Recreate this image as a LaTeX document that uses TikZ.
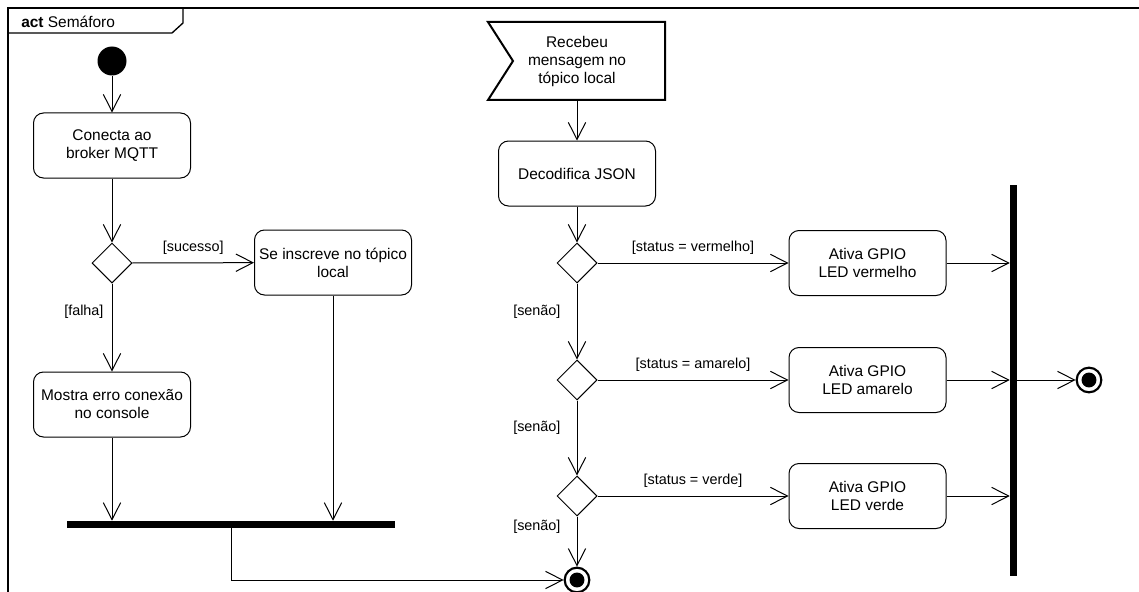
\documentclass[tikz,border=0pt]{standalone}
\usepackage{fontspec}
\setmainfont{Liberation Sans}
\usetikzlibrary{arrows.meta,shapes.geometric}
\newcommand{\boxfont}{\fontsize{11.6}{13.5}\selectfont}
\newcommand{\guardfont}{\fontsize{10.8}{13}\selectfont}
\begin{document}
\begin{tikzpicture}[x=0.75pt,y=-0.75pt,
  action/.style={draw, line width=0.75pt, rounded corners=7.5pt,
    minimum width=117.75pt, minimum height=48.75pt, align=center,
    font=\boxfont, inner sep=2pt},
  decision/.style={diamond, draw, line width=0.75pt, minimum width=30pt,
    minimum height=30pt, inner sep=0pt},
  flow/.style={line width=0.75pt, -{Straight Barb[length=12.75pt,width=13pt]}},
  guard/.style={font=\guardfont, inner sep=0pt},
  syncbar/.style={fill=black, draw=none, inner sep=0pt},
  startnode/.style={circle, fill=black, minimum size=21.75pt, inner sep=0pt},
  endnode/.style={circle, draw, fill=white, line width=1.6pt, minimum size=18.5pt,
    inner sep=0pt, path picture={\fill[black] (path picture bounding box.center) circle (5.6pt);}}
]
\useasboundingbox (0,0) rectangle (1139,592);

% frame and its name tab
\draw[line width=1pt] (8,600) -- (8,8) -- (1145,8);
\draw[line width=1pt] (8,33) -- (172,33) -- (183,23) -- (183,8);
\node[anchor=west, inner sep=0pt, font=\boxfont] (title) at (21,22) {\textbf{act} Semáforo};

% left branch: connection to the broker
\node[startnode] (start) at (112,61) {};
\node[action] (conn) at (112,145.5) {Conecta ao\\broker MQTT};
\node[decision] (d1) at (112,263) {};
\node[action] (sub) at (333,262.5) {Se inscreve no tópico\\local};
\node[action] (err) at (112,404.5) {Mostra erro conexão\\no console};
\node[syncbar, minimum width=246pt, minimum height=5.25pt] (lbar) at (231,524.5) {};

\draw[flow] (start) -- (conn);
\draw[flow] (conn) -- (d1);
\draw[flow] (d1) -- (sub) node[guard, pos=0.5, above=6pt] (gsuc) {[sucesso]};
\draw[flow] (d1) -- (err) node[guard, pos=0.32, left=6pt] (gfal) {[falha]};
\draw[flow] (err.south) -- (err.south |- lbar.north);
\draw[flow] (sub.south) -- (sub.south |- lbar.north);

% right branch: incoming message handling
\draw[line width=1.5pt] (488,22) -- (665,22) -- (665,100) -- (488,100) -- (513,61) -- cycle;
\coordinate (evbot) at (577,100);
\node[align=center, font=\boxfont, inner sep=0pt] (evtext) at (577,62)
  {\fontsize{11.6}{14.5}\selectfont Recebeu\\mensagem no\\tópico local};
\node[action] (dec) at (577,173.5) {Decodifica JSON};
\node[decision] (d2) at (577,263) {};
\node[decision] (d3) at (577,380) {};
\node[decision] (d4) at (577,496) {};
\node[action] (red) at (867.5,263) {Ativa GPIO\\LED vermelho};
\node[action] (yel) at (867.5,380) {Ativa GPIO\\LED amarelo};
\node[action] (grn) at (867.5,496) {Ativa GPIO\\LED verde};
\node[syncbar, minimum width=5.25pt, minimum height=293.25pt] (rbar) at (1013.5,380) {};
\node[endnode] (fin1) at (577,580) {};
\node[endnode] (fin2) at (1089,380) {};

\draw[flow] (evbot) -- (dec);
\draw[flow] (dec) -- (d2);
\draw[flow] (d2) -- (red) node[guard, pos=0.5, above=6pt] (gred) {[status = vermelho]};
\draw[flow] (d2) -- (d3) node[guard, pos=0.37, left=12pt] (gs1) {[senão]};
\draw[flow] (d3) -- (yel) node[guard, pos=0.5, above=6pt] (gyel) {[status = amarelo]};
\draw[flow] (d3) -- (d4) node[guard, pos=0.37, left=12pt] (gs2) {[senão]};
\draw[flow] (d4) -- (grn) node[guard, pos=0.5, above=6pt] (ggrn) {[status = verde]};
\draw[flow] (d4) -- (fin1) node[guard, pos=0.2, left=12pt] (gs3) {[senão]};
\draw[flow] (red.east) -- (rbar.west |- red.east);
\draw[flow] (yel.east) -- (rbar.west |- yel.east);
\draw[flow] (grn.east) -- (rbar.west |- grn.east);
\draw[flow] (rbar.east |- fin2) -- (fin2);
\draw[flow] (lbar.south) |- (fin1);
\end{tikzpicture}
\end{document}
